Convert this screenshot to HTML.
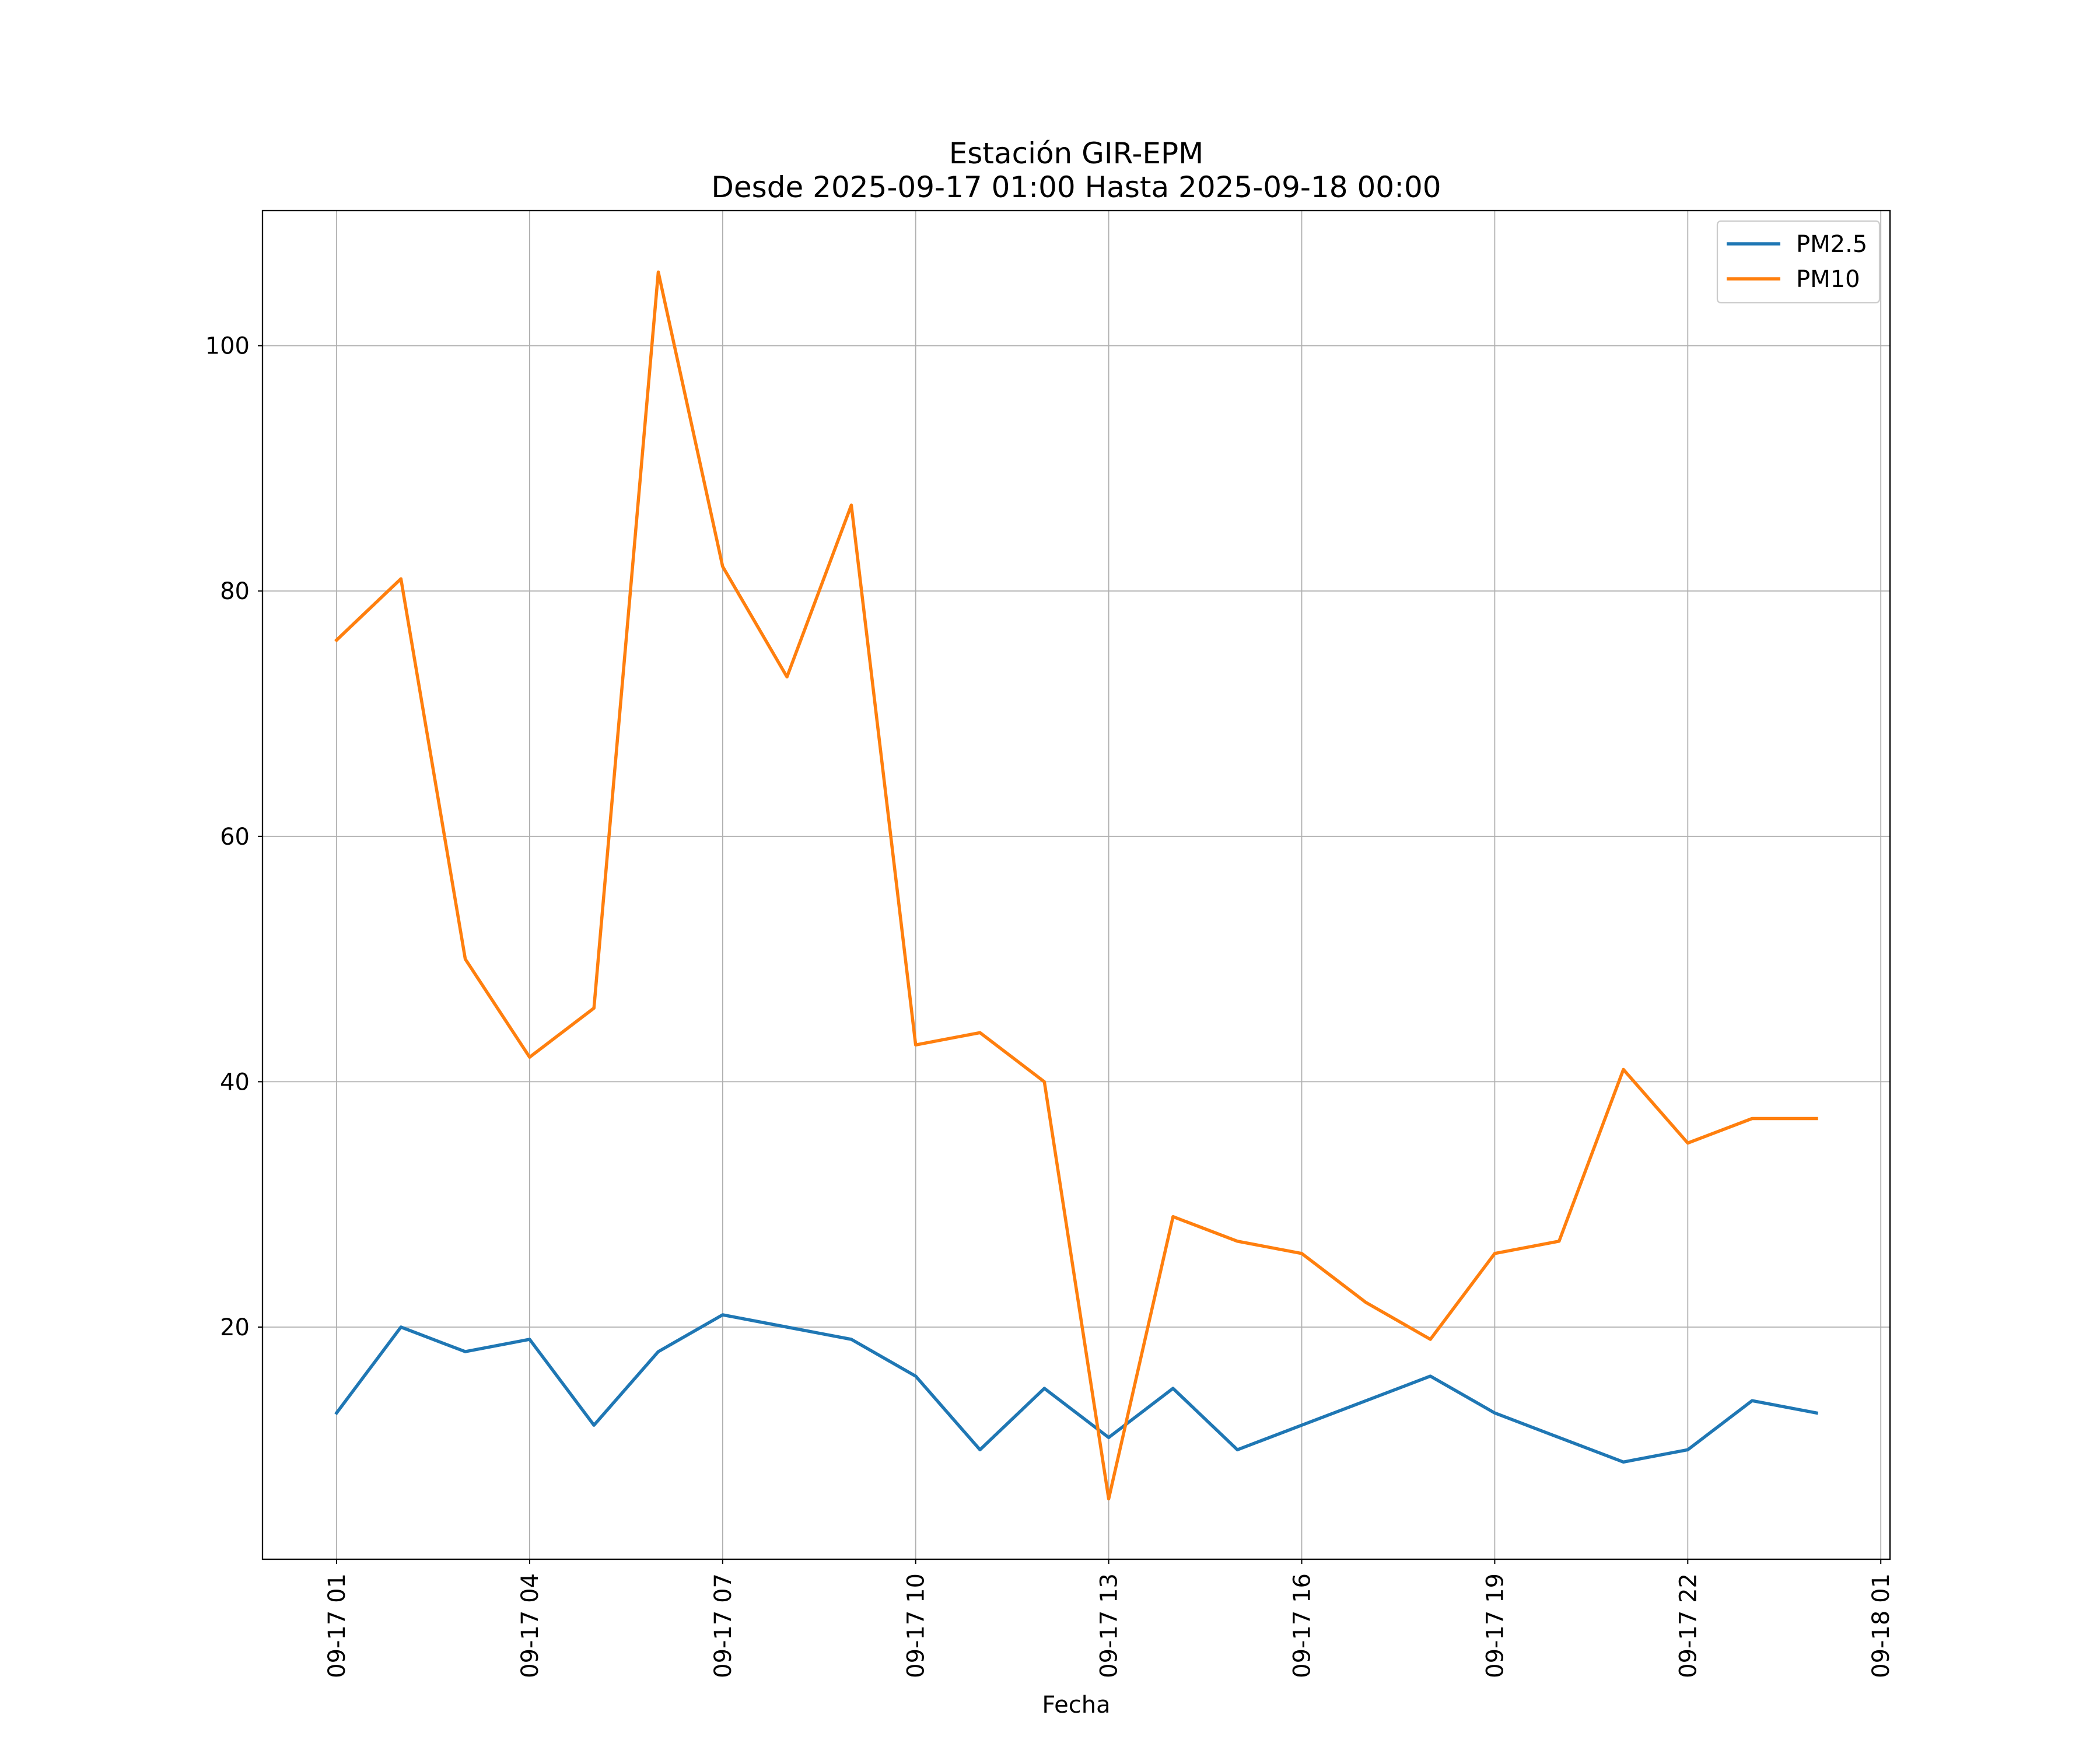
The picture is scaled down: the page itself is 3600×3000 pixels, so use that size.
<!DOCTYPE html>
<html><head><meta charset="utf-8"><style>
html,body{margin:0;padding:0;background:#fff;}
svg{display:block;font-family:"DejaVu Sans","Liberation Sans",sans-serif;}
</style></head><body>
<svg id="chart" width="3600" height="3000" viewBox="0 0 3600 3000">
<rect x="0" y="0" width="3600" height="3000" fill="#fff"/>
<text x="1845" y="280" font-size="50" text-anchor="middle">Estación GIR-EPM</text>
<text x="1845" y="338" font-size="50" text-anchor="middle">Desde 2025-09-17 01:00 Hasta 2025-09-18 00:00</text>
<g id="grid"></g>
<g id="series"></g>
<rect x="450" y="361" width="2790" height="2312" fill="none" stroke="#000" stroke-width="2.3"/>
<g id="ticks"></g>
<text x="1845" y="2936" font-size="40" text-anchor="middle">Fecha</text>
<g>
<rect x="2944" y="379" width="278" height="140" fill="#fff" fill-opacity="0.8" stroke="#ccc" stroke-width="2.3" rx="6"/>
<line x1="2960" y1="418" x2="3052" y2="418" stroke="#1f77b4" stroke-width="5.5"/>
<text x="3079" y="432" font-size="40">PM2.5</text>
<line x1="2960" y1="478" x2="3052" y2="478" stroke="#ff7f0e" stroke-width="5.5"/>
<text x="3079" y="492" font-size="40">PM10</text>
</g>
</svg>
<script>
const hours = [1,2,3,4,5,6,7,8,9,10,11,12,13,14,15,16,17,18,19,20,21,22,23,24];
const pm25 = [13,20,18,19,12,18,21,20,19,16,10,15,11,15,10,12,14,16,13,11,9,10,14,13];
const pm10 = [76,81,50,42,46,106,82,73,87,43,44,40,6,29,27,26,22,19,26,27,41,35,37,37];
const yTicks = [20,40,60,80,100];
const xTickHours = [1,4,7,10,13,16,19,22,25];
const xTickLabels = ["09-17 01","09-17 04","09-17 07","09-17 10","09-17 13","09-17 16","09-17 19","09-17 22","09-18 01"];

const NS = "http://www.w3.org/2000/svg";
const L=450,R=3240,T=361,B=2673;
function xs(h){ return 577 + (h-1)*110.3; }
function ys(v){ return 2695.6 - v*21.03; }
function mk(tag, attrs, parent){ const e=document.createElementNS(NS,tag); for(const k in attrs) e.setAttribute(k,attrs[k]); parent.appendChild(e); return e; }
const grid=document.getElementById('grid'), ticks=document.getElementById('ticks'), series=document.getElementById('series');

yTicks.forEach(v=>{
  const y=ys(v);
  const g=mk('line',{x1:L,x2:R,y1:y,y2:y,stroke:'#b0b0b0','stroke-width':1.8},grid);
  
  
  const t=mk('line',{x1:L-8,x2:L,y1:y,y2:y,stroke:'#000','stroke-width':2},ticks);
  
  
  const tx=mk('text',{x:L-22,y:y+14,'font-size':40,'text-anchor':'end'},ticks);
  tx.textContent=v;
  
  
});
xTickHours.forEach((h,i)=>{
  const x=xs(h);
  const g=mk('line',{x1:x,x2:x,y1:T,y2:B,stroke:'#b0b0b0','stroke-width':1.8},grid);
  
  
  const t=mk('line',{x1:x,x2:x,y1:B,y2:B+8,stroke:'#000','stroke-width':2},ticks);
  
  
  const tx=mk('text',{x:0,y:0,'font-size':40,'text-anchor':'end',transform:`translate(${x+14},${B+24}) rotate(-90)`},ticks);
  tx.textContent=xTickLabels[i];
  
  
});
function drawLine(vals,color,name){
  const pts=vals.map((v,i)=>xs(hours[i]).toFixed(1)+','+ys(v).toFixed(1)).join(' ');
  const p=mk('polyline',{points:pts,fill:'none',stroke:color,'stroke-width':5.5,'stroke-linejoin':'round','stroke-linecap':'square'},series);
  
  
}
drawLine(pm25,'#1f77b4','pm25-line');
drawLine(pm10,'#ff7f0e','pm10-line');
</script>
</body></html>
